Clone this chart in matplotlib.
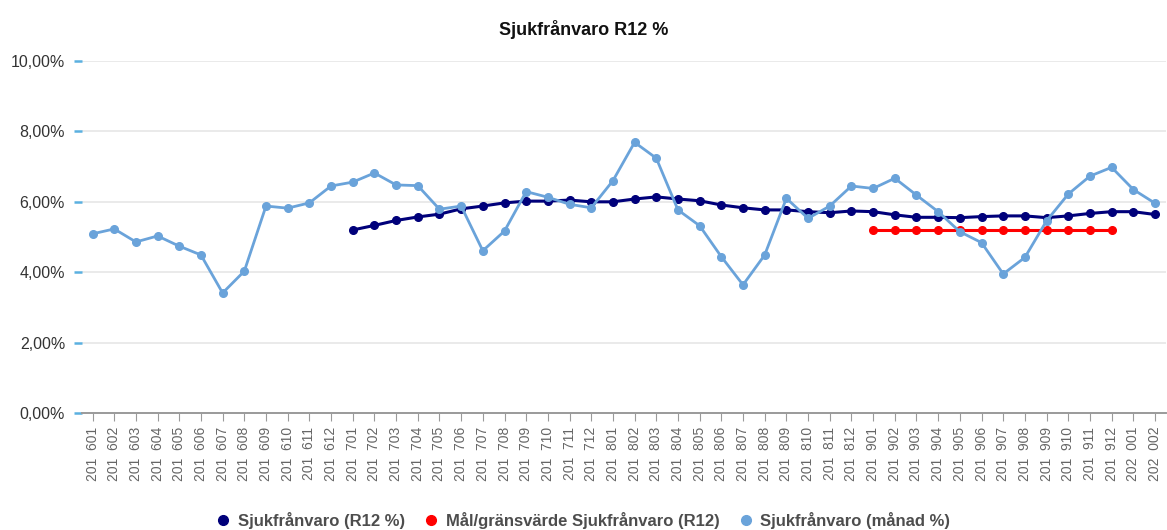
import matplotlib

matplotlib.use("Agg")
import matplotlib.pyplot as plt
from matplotlib.ticker import FuncFormatter
from matplotlib.lines import Line2D

plt.rcParams["font.family"] = ["Liberation Sans", "DejaVu Sans"]

periods = [
    "201601", "201602", "201603", "201604", "201605", "201606", "201607", "201608",
    "201609", "201610", "201611", "201612", "201701", "201702", "201703", "201704",
    "201705", "201706", "201707", "201708", "201709", "201710", "201711", "201712",
    "201801", "201802", "201803", "201804", "201805", "201806", "201807", "201808",
    "201809", "201810", "201811", "201812", "201901", "201902", "201903", "201904",
    "201905", "201906", "201907", "201908", "201909", "201910", "201911", "201912",
    "202001", "202002",
]

# monthly sick leave, %
monthly = [
    5.09, 5.23, 4.86, 5.03, 4.74, 4.49, 3.41, 4.03, 5.88, 5.82, 5.97, 6.45,
    6.56, 6.82, 6.48, 6.46, 5.79, 5.88, 4.61, 5.17, 6.29, 6.13, 5.93, 5.83,
    6.60, 7.69, 7.24, 5.77, 5.32, 4.44, 3.64, 4.49, 6.10, 5.53, 5.88, 6.45,
    6.38, 6.67, 6.19, 5.72, 5.15, 4.84, 3.95, 4.42, 5.46, 6.22, 6.73, 6.98,
    6.35, 5.96,
]

# rolling 12 months, from 201701
r12_start = "201701"
r12 = [
    5.20, 5.33, 5.47, 5.57, 5.65, 5.80, 5.88, 5.97, 6.02, 6.02, 6.05, 6.00,
    6.00, 6.08, 6.14, 6.08, 6.03, 5.91, 5.83, 5.77, 5.77, 5.72, 5.69, 5.74,
    5.72, 5.63, 5.56, 5.56, 5.55, 5.58, 5.60, 5.60, 5.55, 5.60, 5.67, 5.72,
    5.72, 5.64,
]

# target, 2019
target_start = "201901"
target = [5.20] * 12

NAVY = "#00007a"
RED = "#ff0000"
LIGHT = "#6aa3da"

x = list(range(len(periods)))
r12_x = [periods.index(r12_start) + i for i in range(len(r12))]
target_x = [periods.index(target_start) + i for i in range(len(target))]
tick_labels = [p[:3] + "  " + p[3:] for p in periods]

fig = plt.figure(figsize=(11.67, 5.30), dpi=100)
ax = fig.add_axes([0.070, 0.2208, 0.929, 0.664])

ax.plot(r12_x, [v / 100 for v in r12], color=NAVY, lw=2.2, marker="o", ms=5.5, zorder=3)
ax.plot(target_x, [v / 100 for v in target], color=RED, lw=2.2, marker="o", ms=5.5, zorder=3)
ax.plot(x, [v / 100 for v in monthly], color=LIGHT, lw=2.0, marker="o", ms=5.5, zorder=4)

ax.set_xlim(-0.5, len(periods) - 0.5)
ax.set_ylim(0, 0.10)
ax.set_yticks([0, 0.02, 0.04, 0.06, 0.08, 0.10])
ax.yaxis.set_major_formatter(FuncFormatter(lambda v, _: f"{v * 100:.2f}%".replace(".", ",")))
ax.grid(axis="y", color="#e6e6e6", lw=1.2)
ax.set_axisbelow(True)

for side in ("top", "right", "left"):
    ax.spines[side].set_visible(False)
ax.spines["bottom"].set_color("#9a9a9a")
ax.spines["bottom"].set_linewidth(1.4)

ax.set_xticks(x, tick_labels, rotation=90)
ax.tick_params(axis="x", length=6, color="#9a9a9a", labelsize=10, labelcolor="#666666", pad=4)
ax.tick_params(axis="y", length=6, width=1.8, color="#5ab0e0", labelsize=11.5, labelcolor="#333333", pad=6)

fig.suptitle("Sjukfrånvaro R12 %", x=0.5, y=0.962, fontsize=13, fontweight="bold", color="#111111")

handles = [
    Line2D([], [], ls="none", marker="o", ms=7, color=NAVY),
    Line2D([], [], ls="none", marker="o", ms=7, color=RED),
    Line2D([], [], ls="none", marker="o", ms=7, color=LIGHT),
]
labels = ["Sjukfrånvaro (R12 %)", "Mål/gränsvärde Sjukfrånvaro (R12)", "Sjukfrånvaro (månad %)"]
leg = fig.legend(handles, labels, loc="center", bbox_to_anchor=(0.5, 0.018), ncol=3,
                 frameon=False, handlelength=0.8, handletextpad=0.45, columnspacing=1.2,
                 prop={"size": 12, "weight": "bold"})
for t in leg.get_texts():
    t.set_color("#4d4d4d")

fig.savefig("out.png", dpi=100)
